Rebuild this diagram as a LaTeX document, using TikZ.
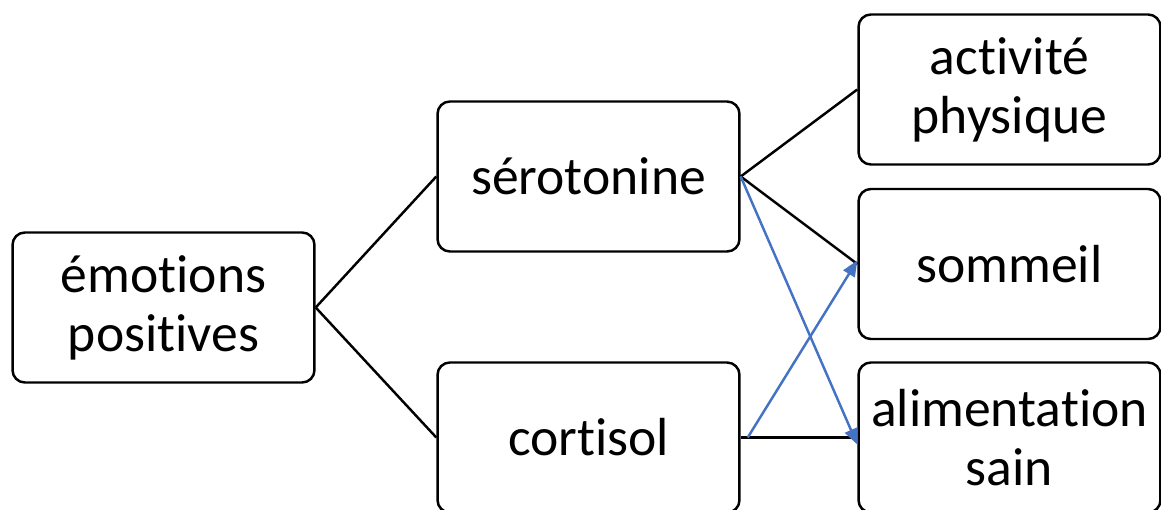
\documentclass[tikz,border=0pt]{standalone}
\usepackage{fontspec}
\setmainfont[Ligatures=NoCommon]{Carlito}
\usetikzlibrary{arrows.meta}

\definecolor{linkblue}{HTML}{4472C4}

\tikzset{
	facteur/.style={draw, line width=1.4pt, rounded corners=7pt,
		minimum width=6.04cm, minimum height=3.0cm, align=center,
		font=\fontsize{30.5}{33.6}\selectfont, inner sep=0pt},
	lien/.style={line width=1.4pt},
	fleche/.style={line width=1.4pt, color=linkblue,
		-{Triangle[length=9pt, width=7.5pt]}},
}

\begin{document}
\begin{tikzpicture}[x=0.02cm, y=-0.02cm]
	\useasboundingbox (0,0) rectangle (1161,510);
	% boxes
	\node[facteur] (emo) at (163.5,307.5) {émotions\\positives};
	\node[facteur] (sero) at (588.5,176.5) {sérotonine};
	\node[facteur] (cort) at (588.5,437.5) {cortisol};
	\node[facteur] (sport) at (1009.5,89.5) {activité\\physique};
	\node[facteur] (sleep) at (1009.5,264) {sommeil};
	\node[facteur] (food) at (1009.5,437.5) {alimentation\\sain};
	% black links
	\draw[lien] (emo.east) -- (sero.west);
	\draw[lien] (emo.east) -- (cort.west);
	\draw[lien] (sero.east) -- (sport.west);
	\draw[lien] (sero.east) -- (sleep.west);
	\draw[lien] (cort.east) -- (food.west);
	% blue arrows
	\draw[fleche] (sero.east) -- ([yshift=-4pt]food.west);
	\draw[fleche] ([xshift=4pt]cort.east) -- ([yshift=2pt]sleep.west);
\end{tikzpicture}
\end{document}
